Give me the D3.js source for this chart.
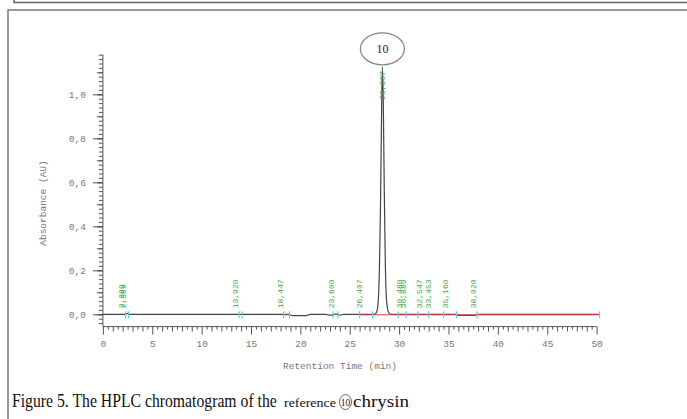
<!DOCTYPE html>
<html>
<head>
<meta charset="utf-8">
<script src="https://cdn.jsdelivr.net/npm/d3@7"></script>
<style>
  body { margin: 0; background: #fff; }
  svg { display: block; }
</style>
</head>
<body>
<svg width="687" height="419"></svg>
<script>
    'use strict';

    // chromatogram trace: [retention time (min), absorbance (AU)]
    const trace = [
        [0, 0], [2.3, 0], [2.5, 0.004], [2.7, 0], [18.8, 0], [19.2, -0.006], [20.6, -0.006],
        [21.0, 0], [22.6, 0], [22.9, -0.004], [23.3, -0.003], [23.6, 0.002], [24.0, -0.004],
        [24.4, 0], [27.5, 0], [27.7, 0.008], [27.85, 0.04], [28.0, 0.2], [28.1, 0.45],
        [28.2, 0.82], [28.3, 1.125], [28.4, 0.95], [28.5, 0.55], [28.6, 0.24], [28.7, 0.08],
        [28.85, 0.02], [29.0, 0.004], [29.2, 0], [35.8, 0], [36.0, -0.005], [37.7, -0.005],
        [37.9, 0], [50.3, 0]
    ];

    // integrated peaks: retention time and its printed label
    const peakTimes = [2.389, 2.589, 13.92, 18.447, 23.6, 26.407, 30.48, 30.889, 32.547, 33.453, 35.16, 38.02];
    const peakLabels = ['2,389', '2,589', '13,920', '18,447', '23,600', '26,407', '30,480', '30,889', '32,547', '33,453', '35,160', '38,020'];
    const mainPeakTime = 28.307;
    const mainPeakLabel = '28,307';
    const mainPeakHeight = 1.125;
    const mainPeakName = '10';

    // peak start / end markers and drawn baselines
    const markerTimes = [2.3, 2.6, 13.8, 14.1, 18.3, 18.9, 23.3, 23.8, 26.0, 27.3, 29.9, 30.7, 31.9, 33.0, 34.5, 35.8, 37.9, 50.3];
    const baselineSegments = [[18.3, 18.9], [26.0, 50.3]];

    const xTickValues = [0, 5, 10, 15, 20, 25, 30, 35, 40, 45, 50];
    const yTickValues = [0, 0.2, 0.4, 0.6, 0.8, 1.0];
    const yTickLabels = ['0,0', '0,2', '0,4', '0,6', '0,8', '1,0'];

    const xTitle = 'Retention Time (min)';
    const yTitle = 'Absorbance (AU)';

    const svg = d3.select('svg');
    const mono = '"Liberation Mono", "DejaVu Sans Mono", monospace';
    const serif = '"Liberation Serif", serif';

    // page frames
    svg.append('path')
        .attr('d', 'M14,0 V2.5 H687')
        .attr('fill', 'none').attr('stroke', '#666').attr('stroke-width', 1.5);
    svg.append('path')
        .attr('d', 'M8,419 V10 H687')
        .attr('fill', 'none').attr('stroke', '#777').attr('stroke-width', 1.5);

    const x = d3.scaleLinear().domain([0, 50]).range([102.9, 596.6]);
    const y = d3.scaleLinear().domain([0, 1]).range([314.3, 94.3]);
    const yMin = -0.056, yMax = 1.18;

    // ---- y axis: minor, medium and major ticks
    const yAxisG = svg.append('g').attr('transform', `translate(${x(0)},0)`);
    const drawY = (values, size, labels) => {
        const ax = d3.axisLeft(y).tickValues(values).tickSize(size).tickSizeOuter(0)
            .tickFormat((d, i) => labels ? labels[i] : '');
        const g = yAxisG.append('g').call(ax);
        g.select('.domain').remove();
        g.selectAll('line').attr('stroke', '#555');
        g.selectAll('text').attr('font-family', mono).attr('font-size', 9.5)
            .attr('fill', '#777').attr('x', -17);
    };
    drawY(d3.range(-0.04, yMax + 0.001, 0.02), 4);
    drawY(d3.range(-0.1, yMax, 0.1).filter(v => v > yMin), 6);
    drawY(yTickValues, 10, yTickLabels);
    yAxisG.append('line')
        .attr('y1', y(yMin)).attr('y2', y(yMax))
        .attr('stroke', '#555');

    // ---- x axis
    const xAxisG = svg.append('g').attr('transform', `translate(0,${y(yMin)})`);
    const drawX = (values, size, labels) => {
        const ax = d3.axisBottom(x).tickValues(values).tickSize(size).tickSizeOuter(0)
            .tickFormat(labels ? d3.format('d') : '');
        const g = xAxisG.append('g').call(ax);
        g.select('.domain').remove();
        g.selectAll('line').attr('stroke', '#555');
        g.selectAll('text').attr('font-family', mono).attr('font-size', 9.5)
            .attr('fill', '#777').attr('y', 14);
    };
    drawX(d3.range(0.5, 50, 1), 3);
    drawX(d3.range(0, 51, 1).filter(v => v % 5), 5);
    drawX(xTickValues, 8, true);
    xAxisG.append('line')
        .attr('x1', x(0)).attr('x2', x(50))
        .attr('stroke', '#555');

    // axis titles
    svg.append('text')
        .attr('x', 340).attr('y', 369)
        .attr('text-anchor', 'middle')
        .attr('font-family', mono).attr('font-size', 9.5).attr('fill', '#777')
        .text(xTitle);
    svg.append('text')
        .attr('transform', 'translate(46,203) rotate(-90)')
        .attr('text-anchor', 'middle')
        .attr('font-family', mono).attr('font-size', 9.5).attr('fill', '#777')
        .text(yTitle);

    // ---- trace
    const line = d3.line()
        .x(d => x(d[0]))
        .y(d => y(d[1]))
        .curve(d3.curveMonotoneX);
    svg.append('path')
        .datum(trace)
        .attr('d', line)
        .attr('fill', 'none')
        .attr('stroke', '#444')
        .attr('stroke-width', 1.2);

    // baselines in red
    svg.selectAll('.baseline').data(baselineSegments)
        .enter().append('line')
        .attr('class', 'baseline')
        .attr('x1', d => x(d[0])).attr('x2', d => x(d[1]))
        .attr('y1', y(0) + 0.5).attr('y2', y(0) + 0.5)
        .attr('stroke', '#e23a3a').attr('stroke-width', 1);

    // peak start/end markers
    svg.selectAll('.marker').data(markerTimes)
        .enter().append('line')
        .attr('class', 'marker')
        .attr('x1', d => x(d)).attr('x2', d => x(d))
        .attr('y1', y(0) - 3).attr('y2', y(0) + 4)
        .attr('stroke', '#55d4dc').attr('stroke-width', 1.2);

    // retention time labels
    svg.selectAll('.rt').data(peakTimes)
        .enter().append('text')
        .attr('class', 'rt')
        .attr('transform', d => `translate(${x(d) - 2},${y(0) - 6}) rotate(-90)`)
        .attr('font-family', mono).attr('font-size', 8).attr('fill', '#3f9f3f')
        .text((d, i) => peakLabels[i]);

    svg.append('text')
        .attr('transform', `translate(${x(mainPeakTime) + 3},${y(mainPeakHeight) + 33}) rotate(-90)`)
        .attr('font-family', mono).attr('font-size', 8).attr('fill', '#3f9f3f')
        .text(mainPeakLabel);

    // circled peak name above the main peak
    const nameG = svg.append('g')
        .attr('transform', `translate(${x(mainPeakTime)},${y(mainPeakHeight) - 18})`);
    nameG.append('ellipse')
        .attr('rx', 22).attr('ry', 16)
        .attr('fill', 'none').attr('stroke', '#888').attr('stroke-width', 1.3);
    nameG.append('text')
        .attr('text-anchor', 'middle').attr('dy', '0.35em')
        .attr('font-family', serif).attr('font-size', 12)
        .attr('fill', '#222')
        .text(mainPeakName);

    // ---- caption, set in pieces of different sizes, squeezed to the widths in the figure
    const capY = 407;
    const squeezed = (str, left, size, width) => {
        const t = svg.append('text')
            .attr('font-family', serif).attr('font-size', size).attr('fill', '#111')
            .text(str);
        const k = width / t.node().getComputedTextLength();
        t.attr('transform', `translate(${left},${capY}) scale(${k},1)`);
        return t;
    };
    squeezed('Figure 5. The HPLC chromatogram of the', 12, 18, 265);
    squeezed('reference', 284, 12.5, 52);
    svg.append('ellipse')
        .attr('cx', 345.5).attr('cy', capY - 5)
        .attr('rx', 6).attr('ry', 7.5)
        .attr('fill', 'none').attr('stroke', '#555').attr('stroke-width', 0.9);
    svg.append('text')
        .attr('x', 345.5).attr('y', capY - 1)
        .attr('text-anchor', 'middle')
        .attr('font-family', serif).attr('font-size', 9.5).attr('fill', '#111')
        .text('10');
    squeezed('chrysin', 353, 16, 56);
</script>
</body>
</html>
